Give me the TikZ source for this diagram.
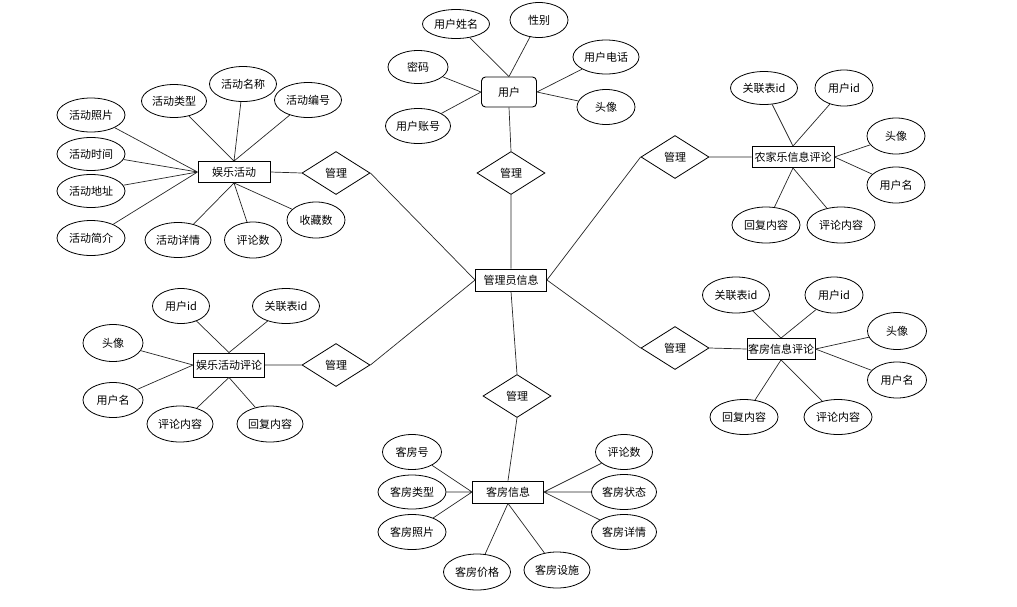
\documentclass[tikz,border=0pt]{standalone}
\usepackage{fontspec}
\newfontfamily\cjk{Noto Sans CJK SC}
\usetikzlibrary{shapes.geometric}
\begin{document}
\begin{tikzpicture}[x=1pt,y=-1pt,
  every node/.style={font=\cjk\fontsize{11}{12}\selectfont, inner sep=0pt},
  attr/.style={ellipse, draw=black, line width=0.8pt, fill=white},
  ent/.style={rectangle, draw=black, line width=0.9pt, fill=white},
  rel/.style={diamond, draw=black, line width=0.8pt, fill=white, minimum width=68pt, minimum height=43pt},
  link/.style={draw=black!85, line width=0.7pt}]
\useasboundingbox (0,0) rectangle (1017,606);
\newcommand{\at}[5]{\node[attr, minimum width=#3pt, minimum height=#4pt] (#1) at #2 {#5};}
% central
\node[ent, minimum width=71pt, minimum height=22pt] (admin) at (511,280) {管理员信息};
% user
\node[ent, rounded corners=4pt, minimum width=55pt, minimum height=30pt] (user) at (509,92) {用户};
\at{u1}{(456,24)}{67}{29}{用户姓名}
\at{u2}{(539,20)}{58}{35}{性别}
\at{u3}{(606,57)}{66}{34}{用户电话}
\at{u4}{(418,67)}{60}{33}{密码}
\at{u5}{(418,126)}{65}{35}{用户账号}
\at{u6}{(606,107)}{58}{35}{头像}
\node[rel] (m1) at (511,173) {管理};
% room
\node[rel] (m2) at (517,396) {管理};
\node[ent, minimum width=71pt, minimum height=22pt] (room) at (508,492) {客房信息};
\at{r1}{(412,452)}{59}{35}{客房号}
\at{r2}{(412,492)}{68}{34}{客房类型}
\at{r3}{(412,532)}{68}{35}{客房照片}
\at{r4}{(624,452)}{57}{35}{评论数}
\at{r5}{(624,492)}{65}{35}{客房状态}
\at{r6}{(624,532)}{65}{35}{客房详情}
\at{r7}{(477,572)}{67}{36}{客房价格}
\at{r8}{(557,570)}{66}{36}{客房设施}
% activity
\node[ent, minimum width=72pt, minimum height=21pt] (act) at (234,172) {娱乐活动};
\node[rel] (m3) at (336,173) {管理};
\at{a1}{(91,115)}{68}{34}{活动照片}
\at{a2}{(174,101)}{65}{33}{活动类型}
\at{a3}{(243,84)}{67}{35}{活动名称}
\at{a4}{(308,100)}{67}{35}{活动编号}
\at{a5}{(91,154)}{68}{33}{活动时间}
\at{a6}{(91,191)}{68}{33}{活动地址}
\at{a7}{(91,238)}{68}{35}{活动简介}
\at{a8}{(178,240)}{66}{35}{活动详情}
\at{a9}{(253,240)}{57}{36}{评论数}
\at{a10}{(316,220)}{58}{36}{收藏数}
% activity comment
\node[ent, minimum width=71pt, minimum height=24pt] (ac) at (229,365) {娱乐活动评论};
\node[rel] (m4) at (336,365) {管理};
\at{c1}{(181,306)}{57}{35}{用户id}
\at{c2}{(286,306)}{67}{35}{关联表id}
\at{c3}{(113,343)}{60}{37}{头像}
\at{c4}{(113,400)}{60}{35}{用户名}
\at{c5}{(180,424)}{66}{36}{评论内容}
\at{c6}{(270,424)}{66}{36}{回复内容}
% farm comment
\node[ent, minimum width=82pt, minimum height=21pt] (fc) at (793,157) {农家乐信息评论};
\node[rel] (m5) at (675,157) {管理};
\at{f1}{(764,88)}{67}{33}{关联表id}
\at{f2}{(844,88)}{58}{36}{用户id}
\at{f3}{(896,136)}{58}{36}{头像}
\at{f4}{(896,185)}{58}{36}{用户名}
\at{f5}{(766,225)}{68}{36}{回复内容}
\at{f6}{(841,225)}{68}{36}{评论内容}
% room comment
\node[ent, minimum width=68pt, minimum height=21pt] (rc) at (781,349) {客房信息评论};
\node[rel] (m6) at (675,348) {管理};
\at{g1}{(736,295)}{67}{36}{关联表id}
\at{g2}{(834,295)}{58}{36}{用户id}
\at{g3}{(897,331)}{59}{37}{头像}
\at{g4}{(897,380)}{59}{36}{用户名}
\at{g5}{(744,417)}{68}{35}{回复内容}
\at{g6}{(838,417)}{68}{35}{评论内容}
% ---- connectors ----
\path[link] (u1) -- (user.north) (u2) -- (user.north)
  (u4) -- (user.west) (u5) -- (user.west)
  (u3) -- (user.east) (u6) -- (user.east)
  (user.south) -- (m1.north) (m1.south) -- (admin.north)
  (admin.south) -- (m2.north) (m2.south) -- (room.north)
  (r1) -- (room.west) (r2) -- (room.west) (r3) -- (room.west)
  (r4) -- (room.east) (r5) -- (room.east) (r6) -- (room.east)
  (r7) -- (room.south) (r8) -- (room.south)
  (a1) -- (act.west) (a5) -- (act.west) (a6) -- (act.west) (a7) -- (act.west)
  (a2) -- (act.north) (a3) -- (act.north) (a4) -- (act.north)
  (a8) -- (act.south) (a9) -- (act.south) (a10) -- (act.south)
  (act.east) -- (m3.west) (m3.east) -- (admin.west)
  (c1) -- (ac.north) (c2) -- (ac.north)
  (c3) -- (ac.west) (c4) -- (ac.west)
  (c5) -- (ac.south) (c6) -- (ac.south)
  (ac.east) -- (m4.west) (m4.east) -- (admin.west)
  (f1) -- (fc.north) (f2) -- (fc.north)
  (f3) -- (fc.east) (f4) -- (fc.east)
  (f5) -- (fc.south) (f6) -- (fc.south)
  (fc.west) -- (m5.east) (m5.west) -- (admin.east)
  (g1) -- (rc.north) (g2) -- (rc.north)
  (g3) -- (rc.east) (g4) -- (rc.east)
  (g5) -- (rc.south) (g6) -- (rc.south)
  (rc.west) -- (m6.east) (m6.west) -- (admin.east);
\end{tikzpicture}
\end{document}
